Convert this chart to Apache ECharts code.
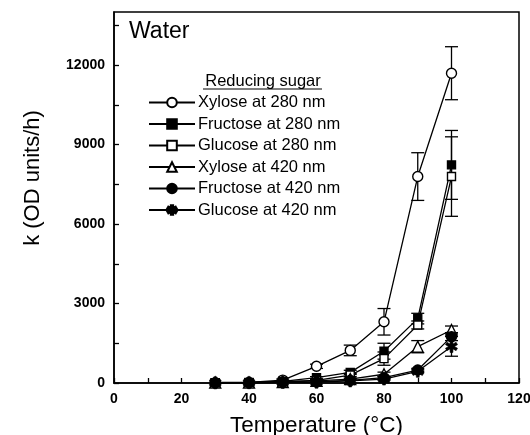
<!DOCTYPE html>
<html>
<head>
<meta charset="utf-8">
<script src="https://cdn.jsdelivr.net/npm/echarts@6/dist/echarts.min.js"></script>
<style>html,body{margin:0;padding:0;background:#fff}#c{width:530px;height:435px}</style>
</head>
<body>
<div id="c"></div>
<script>
const temps = [30, 40, 50, 60, 70, 80, 90, 100];
const seriesNames = ['Xylose at 280 nm','Fructose at 280 nm','Glucose at 280 nm','Xylose at 420 nm','Fructose at 420 nm','Glucose at 420 nm'];
const xylose280 = [10, 20, 110, 630, 1230, 2310, 7790, 11690];
const fructose280 = [10, 20, 60, 200, 400, 1200, 2430, 8230];
const glucose280 = [10, 15, 50, 100, 300, 920, 2190, 7790];
const xylose420 = [20, 20, 40, 80, 150, 330, 1370, 2000];
const fructose420 = [5, 10, 30, 40, 100, 200, 490, 1750];
const glucose420 = [5, 10, 20, 30, 80, 150, 440, 1380];
const xylose280Err = [0, 0, 40, 80, 200, 500, 900, 1000];
const fructose280Err = [0, 0, 0, 40, 80, 300, 200, 1300];
const glucose280Err = [0, 0, 0, 30, 60, 250, 150, 1500];
const xylose420Err = [0, 0, 0, 0, 30, 80, 230, 150];
const fructose420Err = [0, 0, 0, 0, 0, 40, 60, 150];
const glucose420Err = [0, 0, 0, 0, 0, 30, 50, 370];
const xTickLabels = [0, 20, 40, 60, 80, 100, 120];
const xTicks = [0, 10, 20, 30, 40, 50, 60, 70, 80, 90, 100, 110, 120];
const yTickLabels = [0, 3000, 6000, 9000, 12000];
const yTicks = [0, 1500, 3000, 4500, 6000, 7500, 9000, 10500, 12000, 13500];

const values = [xylose280, fructose280, glucose280, xylose420, fructose420, glucose420];
const errs = [xylose280Err, fructose280Err, glucose280Err, xylose420Err, fructose420Err, glucose420Err];
const starPath = 'path://M-1.4,-6 L1.4,-6 L1.4,6 L-1.4,6 Z M-5.9,-1.8 L-4.5,-4.2 L5.9,1.8 L4.5,4.2 Z M4.5,-4.2 L5.9,-1.8 L-4.5,4.2 L-5.9,1.8 Z';
const symbols = [
  {symbol:'circle', size:10, fill:'#fff'},
  {symbol:'rect', size:8, fill:'#000'},
  {symbol:'rect', size:8, fill:'#fff'},
  {symbol:'triangle', size:11, fill:'#fff'},
  {symbol:'circle', size:10, fill:'#000'},
  {symbol:starPath, size:12, fill:'#000'}
];
const FONT = '"Liberation Sans", Arial, Helvetica, sans-serif';

const series = [];
values.forEach((v, i) => {
  series.push({
    name: seriesNames[i],
    type: 'line',
    data: temps.map((t, j) => [t, v[j]]),
    symbol: symbols[i].symbol,
    symbolSize: symbols[i].size,
    showAllSymbol: true,
    lineStyle: {color: '#000', width: 1.3},
    itemStyle: {color: symbols[i].fill, borderColor: '#000', borderWidth: i === 5 ? 0.6 : 1.4},
    z: 3,
    animation: false
  });
  series.push({
    type: 'custom',
    name: seriesNames[i] + ' err',
    data: temps.map((t, j) => [t, v[j], errs[i][j]]),
    z: 1,
    silent: true,
    animation: false,
    renderItem: function (params, api) {
      const x = api.value(0), y = api.value(1), e = api.value(2);
      if (!e) return null;
      const top = api.coord([x, y + e]);
      const bot = api.coord([x, Math.max(0, y - e)]);
      const w = 6.5;
      const style = {stroke: '#000', lineWidth: 1.3};
      return {
        type: 'group',
        children: [
          {type: 'line', shape: {x1: top[0], y1: top[1], x2: bot[0], y2: bot[1]}, style: style},
          {type: 'line', shape: {x1: top[0] - w, y1: top[1], x2: top[0] + w, y2: top[1]}, style: style},
          {type: 'line', shape: {x1: bot[0] - w, y1: bot[1], x2: bot[0] + w, y2: bot[1]}, style: style}
        ]
      };
    }
  });
});

const chart = echarts.init(document.getElementById('c'), null, {renderer: 'canvas'});
chart.setOption({
  animation: false,
  backgroundColor: '#fff',
  title: {
    text: 'Water', left: 129, top: 20, padding: 0,
    textStyle: {fontFamily: FONT, fontSize: 23, fontWeight: 'normal', color: '#000'}
  },
  legend: {
    data: seriesNames,
    orient: 'vertical',
    left: 148, top: 94,
    padding: 0,
    itemWidth: 46, itemHeight: 12, itemGap: 4.5,
    textStyle: {fontFamily: FONT, fontSize: 16.5, color: '#000', padding: [0, 0, 0, -2]},
    selectedMode: false
  },
  grid: {left: 114, right: 11, top: 12, bottom: 52, show: true, borderColor: '#000', borderWidth: 1.5,
    backgroundColor: 'transparent', containLabel: false, outerBoundsMode: 'none'},
  xAxis: {
    type: 'value', min: 0, max: 120,
    name: 'Temperature (°C)', nameLocation: 'middle', nameGap: 31,
    nameTextStyle: {fontFamily: FONT, fontSize: 22.5, color: '#000'},
    axisLine: {lineStyle: {color: '#000', width: 1.5}},
    axisTick: {inside: true, length: 5, lineStyle: {color: '#000', width: 1.3}, customValues: xTicks},
    axisLabel: {customValues: xTickLabels, color: '#000', fontFamily: FONT, fontSize: 14, fontWeight: 'bold', margin: 9,
      formatter: v => String(v)},
    splitLine: {show: false}
  },
  yAxis: {
    type: 'value', min: 0, max: 14000,
    axisLine: {lineStyle: {color: '#000', width: 1.5}},
    axisTick: {inside: true, length: 5, lineStyle: {color: '#000', width: 1.3}, customValues: yTicks},
    axisLabel: {customValues: yTickLabels, color: '#000', fontFamily: FONT, fontSize: 14, fontWeight: 'bold', margin: 9,
      formatter: v => String(v)},
    splitLine: {show: false}
  },
  graphic: [
    {type: 'text', x: 33, y: 178, rotation: Math.PI / 2,
     style: {text: 'k (OD units/h)', fontFamily: FONT, fontSize: 22, fill: '#000', align: 'center', verticalAlign: 'middle'}},
    {type: 'text', x: 263, y: 81,
     style: {text: 'Reducing sugar', fontFamily: FONT, fontSize: 16.5, fill: '#000', align: 'center', verticalAlign: 'middle'}},
    {type: 'line', shape: {x1: 203, y1: 89, x2: 322, y2: 89}, style: {stroke: '#000', lineWidth: 1.2}}
  ],
  series: series
});
</script>
</body>
</html>
